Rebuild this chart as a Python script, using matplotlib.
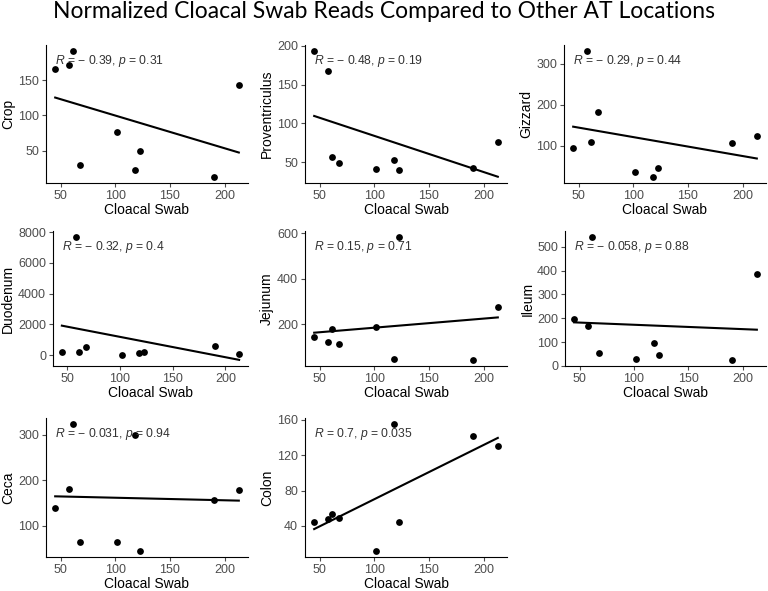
import numpy as np
import matplotlib
matplotlib.use("Agg")
import matplotlib.pyplot as plt

plt.rcParams["font.family"] = ["Liberation Sans", "DejaVu Sans"]
plt.rcParams["mathtext.fontset"] = "custom"
plt.rcParams["mathtext.it"] = "Liberation Sans:italic"
plt.rcParams["mathtext.rm"] = "Liberation Sans"

# shared x: cloacal swab reads
swab = [45, 58, 61, 68, 102, 118, 123, 190, 213]

crop = [166, 172, 191, 29, 76, 22, 50, 13, 143]
proventriculus = [193, 167, 57, 49, 41, 53, 40, 43, 76]
gizzard = [94, 331, 110, 184, 37, 25, 46, 108, 124]
duodenum = [211, 7680, 211, 549, 10, 148, 190, 590, 63]
jejunum = [145, 124, 179, 112, 187, 50, 584, 44, 276]
ileum = [196, 167, 540, 53, 31, 98, 45, 26, 385]
ceca = [139, 180, 323, 64, 64, 299, 45, 156, 179]
colon = [44, 48, 54, 49, 12, 155, 45, 142, 131]

sites = ["Crop", "Proventriculus", "Gizzard", "Duodenum", "Jejunum",
         "Ileum", "Ceca", "Colon"]
values = [crop, proventriculus, gizzard, duodenum, jejunum, ileum, ceca, colon]
r_text = ["\u2212 0.39", "\u2212 0.48", "\u2212 0.29", "\u2212 0.32", "0.15",
          "\u2212 0.058", "\u2212 0.031", "0.7"]
p_text = ["0.31", "0.19", "0.44", "0.4", "0.71", "0.88", "0.94", "0.035"]
yticks = [[50, 100, 150], [50, 100, 150, 200], [100, 200, 300],
          [0, 2000, 4000, 6000, 8000], [200, 400, 600],
          [0, 100, 200, 300, 400, 500], [100, 200, 300], [40, 80, 120, 160]]
xticks = [50, 100, 150, 200]

W, H = 768, 591
fig = plt.figure(figsize=(W / 100, H / 100), dpi=100)

# panel boxes in pixels: left, right, top, bottom
boxes = [(46, 248, 45, 183), (305, 507, 45, 183), (564, 766, 45, 183),
         (53, 248, 231, 366), (305, 507, 231, 366), (565, 766, 231, 366),
         (46, 248, 418, 557), (305, 507, 418, 557)]

x = np.array(swab, float)
for i, (l, r, t, b) in enumerate(boxes):
    ax = fig.add_axes([l / W, 1 - b / H, (r - l) / W, (b - t) / H])
    y = np.array(values[i], float)
    ax.scatter(x, y, s=24, color="black", zorder=3, linewidths=0)
    k, c = np.polyfit(x, y, 1)
    xs = np.array([x.min(), x.max()])
    ax.plot(xs, k * xs + c, color="black", lw=1.5)
    ax.margins(0.05)
    ax.set_xticks(xticks)
    ax.set_yticks(yticks[i])
    for s in ["top", "right"]:
        ax.spines[s].set_visible(False)
    for s in ["left", "bottom"]:
        ax.spines[s].set_linewidth(0.8)
    ax.tick_params(length=3, width=0.8, labelsize=9, colors="#4d4d4d",
                   labelcolor="#4d4d4d", pad=2)
    ax.set_xlabel("Cloacal Swab", fontsize=10, labelpad=1)
    ax.set_ylabel(sites[i], fontsize=10, labelpad=2)
    ax.text(x.min(), 0.885, f"$R$ = {r_text[i]}, $p$ = {p_text[i]}",
            transform=ax.get_xaxis_transform(), ha="left", va="center",
            fontsize=8.7, color="#333333")

fig.text(0.5, 1 - 12 / H, "Normalized Cloacal Swab Reads Compared to Other AT Locations",
         ha="center", va="center", fontsize=16.5, family=["Lato", "DejaVu Sans"])

fig.savefig("out.png", dpi=100)
